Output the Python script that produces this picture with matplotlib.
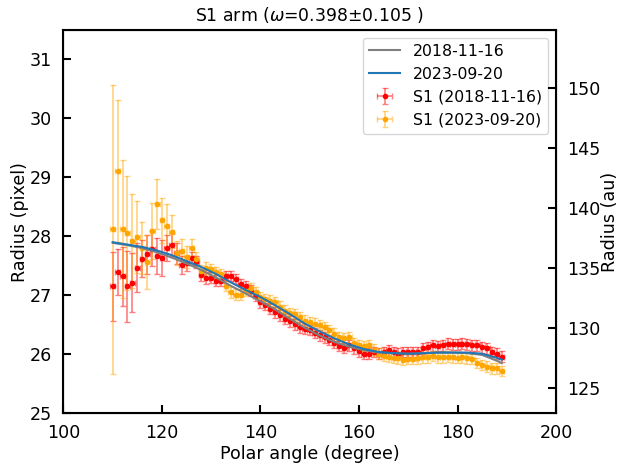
import matplotlib
matplotlib.use("Agg")
import matplotlib.pyplot as plt
import numpy as np

# polar angle grid of the measured points (degree)
angles = np.arange(110, 190)

# S1 radius, 2018-11-16 (pixel)
r_2018 = [27.15, 27.40, 27.32, 27.15, 27.21, 27.47, 27.62, 27.70, 27.79, 27.67,
          27.63, 27.81, 27.85, 27.71, 27.51, 27.54, 27.63, 27.56, 27.35, 27.30,
          27.30, 27.25, 27.25, 27.33, 27.33, 27.28, 27.19, 27.15, 27.08, 26.99,
          26.88, 26.84, 26.77, 26.71, 26.66, 26.60, 26.56, 26.51, 26.46, 26.43,
          26.41, 26.36, 26.32, 26.29, 26.24, 26.19, 26.14, 26.11, 26.15, 26.10,
          26.05, 26.01, 26.01, 26.04, 26.01, 26.04, 26.07, 26.04, 26.01, 26.04,
          26.04, 26.04, 26.04, 26.10, 26.12, 26.15, 26.14, 26.15, 26.18, 26.17,
          26.17, 26.18, 26.17, 26.15, 26.15, 26.12, 26.10, 26.04, 26.01, 25.96]
err_2018 = [0.58, 0.39, 0.50, 0.60, 0.50, 0.42, 0.31, 0.33, 0.30, 0.30,
            0.30, 0.22, 0.20, 0.18, 0.15, 0.12, 0.11, 0.10, 0.10, 0.10] + [0.09] * 60

# S1 radius, 2023-09-20 (pixel)
r_2023 = [28.12, 29.11, 28.13, 28.06, 27.92, 27.99, 27.81, 27.57, 28.09, 28.55,
          28.27, 28.17, 28.08, 27.72, 27.75, 27.65, 27.81, 27.61, 27.42, 27.47,
          27.44, 27.39, 27.36, 27.16, 27.05, 27.01, 27.01, 27.08, 27.12, 27.05,
          26.97, 26.94, 26.91, 26.88, 26.81, 26.74, 26.70, 26.68, 26.63, 26.57,
          26.55, 26.52, 26.49, 26.46, 26.41, 26.35, 26.29, 26.27, 26.29, 26.19,
          26.15, 26.14, 26.15, 26.08, 26.01, 25.98, 25.96, 25.94, 25.93, 25.91,
          25.92, 25.92, 25.93, 25.95, 25.95, 25.97, 25.95, 25.95, 25.96, 25.95,
          25.94, 25.95, 25.93, 25.92, 25.85, 25.82, 25.79, 25.76, 25.76, 25.72]
err_2023 = [2.45, 1.20, 1.17, 0.97, 0.79, 0.61, 0.44, 0.46, 0.47, 0.42,
            0.38, 0.37, 0.28, 0.20, 0.20, 0.18, 0.15, 0.12, 0.10, 0.10] + [0.09] * 60

# fitted arm models (pixel)
fit_angles = [110, 113, 116, 119, 122, 125, 128, 131, 134, 137, 140, 143, 146, 149,
              152, 155, 158, 161, 164, 167, 170, 173, 176, 179, 182, 185, 188, 189]
fit_2018 = [27.89, 27.85, 27.80, 27.73, 27.64, 27.54, 27.43, 27.30, 27.16, 27.03,
            26.90, 26.76, 26.60, 26.45, 26.32, 26.21, 26.13, 26.07, 26.03, 26.02,
            26.01, 26.02, 26.03, 26.03, 26.02, 25.99, 25.89, 25.85]
fit_2023 = [27.90, 27.86, 27.82, 27.76, 27.68, 27.58, 27.48, 27.36, 27.22, 27.09,
            26.97, 26.83, 26.68, 26.52, 26.39, 26.27, 26.17, 26.09, 26.04, 26.02,
            26.01, 26.02, 26.03, 26.03, 26.03, 26.01, 25.94, 25.91]

au_per_pixel = 4.915

plt.rcParams["font.size"] = 12.6

fig = plt.figure(figsize=(6.22, 4.66), dpi=100)
ax = fig.add_axes([0.102, 0.113, 0.792, 0.823])

ax.plot(fit_angles, fit_2018, color="gray", lw=1.5, label="2018-11-16", zorder=3)
ax.plot(fit_angles, fit_2023, color="tab:blue", lw=1.5, label="2023-09-20", zorder=4)
ax.errorbar(angles, r_2018, yerr=err_2018, xerr=0.5, fmt="o", ms=3, color="red",
            ecolor=(1, 0, 0, 0.5), elinewidth=1.2, capsize=2, label="S1 (2018-11-16)", zorder=2)
ax.errorbar(angles, r_2023, yerr=err_2023, xerr=0.5, fmt="o", ms=3, color="orange",
            ecolor=(1, 0.65, 0, 0.5), elinewidth=1.2, capsize=2, label="S1 (2023-09-20)", zorder=2)

ax.set_xlim(100, 200)
ax.set_ylim(25, 31.5)
ax.set_xlabel("Polar angle (degree)", labelpad=2)
ax.set_ylabel("Radius (pixel)", labelpad=1)
ax.set_title(r"S1 arm ($\omega$=0.398±0.105 )", fontsize=12.4)
ax.tick_params(direction="in", length=6, width=1.5, pad=8)
for sp in ax.spines.values():
    sp.set_linewidth(1.5)

ax2 = ax.twinx()
ax2.set_ylim(25 * au_per_pixel, 31.5 * au_per_pixel)
ax2.set_ylabel("Radius (au)", labelpad=0)
ax2.tick_params(direction="in", length=6, width=1.5, pad=8)

ax.legend(loc="upper right", fontsize=11.3)

fig.savefig("out.png", dpi=100)
